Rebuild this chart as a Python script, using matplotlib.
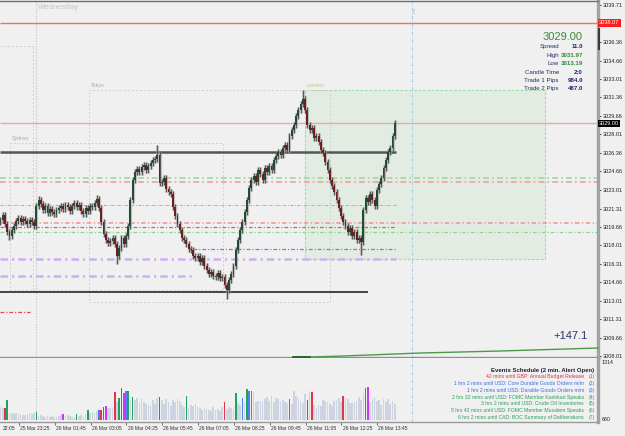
import matplotlib
matplotlib.use("Agg")
import matplotlib.pyplot as plt
import matplotlib.transforms as mtransforms
from matplotlib.patches import Rectangle

plt.rcParams['font.family'] = ['Liberation Sans', 'DejaVu Sans']

# ---------------- data ----------------
open0 = 3020.10
closes = [
    3020.28, 3020.73, 3019.92, 3019.19, 3018.83, 3019.37, 3019.73, 3020.19, 3020.46, 3020.10,
    3020.37, 3020.19, 3019.92, 3020.28, 3020.10, 3019.73, 3021.54, 3022.08, 3021.72, 3021.18,
    3021.54, 3020.91, 3021.27, 3021.00, 3020.82, 3021.18, 3021.36, 3021.54, 3021.27, 3021.63,
    3021.45, 3021.09, 3021.54, 3021.81, 3021.45, 3021.63, 3021.09, 3020.82, 3021.36, 3021.09,
    3021.54, 3021.45, 3021.81, 3022.17, 3021.36, 3020.10, 3019.01, 3018.47, 3018.20, 3018.38,
    3018.65, 3018.11, 3017.03, 3017.75, 3018.65, 3018.11, 3018.83, 3019.73, 3022.08, 3023.88,
    3024.61, 3024.88, 3024.61, 3025.06, 3025.24, 3024.79, 3025.15, 3025.42, 3025.69, 3025.78,
    3026.14, 3023.61, 3023.70, 3024.06, 3023.07, 3022.80, 3022.62, 3021.45, 3020.64, 3019.92,
    3019.37, 3018.65, 3018.47, 3018.11, 3017.66, 3017.57, 3017.03, 3016.85, 3017.03, 3016.49,
    3016.85, 3016.13, 3015.77, 3015.41, 3015.59, 3015.22, 3015.13, 3015.50, 3015.04, 3015.13,
    3014.41, 3013.96, 3014.86, 3015.41, 3016.13, 3017.57, 3018.47, 3019.37, 3020.10, 3021.00,
    3022.08, 3023.16, 3023.88, 3024.24, 3023.70, 3024.79, 3024.43, 3023.88, 3024.97, 3024.61,
    3025.15, 3024.79, 3025.69, 3026.05, 3026.41, 3026.14, 3026.77, 3027.04, 3026.59, 3027.85,
    3028.39, 3028.85, 3029.66, 3030.20, 3030.74, 3031.19, 3030.20, 3028.85, 3028.39, 3028.57,
    3027.67, 3027.85, 3027.31, 3026.59, 3026.32, 3025.51, 3024.79, 3023.88, 3023.34, 3022.80,
    3022.08, 3021.36, 3020.64, 3020.10, 3019.73, 3019.19, 3019.55, 3018.83, 3019.19, 3018.47,
    3018.65, 3018.29, 3021.18, 3022.26, 3021.90, 3022.62, 3022.08, 3021.54, 3022.98, 3023.52,
    3024.06, 3024.97, 3025.69, 3026.41, 3026.77, 3027.85, 3029.00,
]
wick_hi = {135: 3031.97, 70: 3027.04, 17: 3022.44, 43: 3022.50}
wick_lo = {101: 3013.19, 52: 3016.31, 161: 3017.12, 4: 3018.47, 89: 3016.20}

vol = [
    13, 12, 12, 20,
    7, 7, 6, 7, 6, 6, 5, 5, 6, 7, 6, 7,
    8,
    4, 5, 4, 3, 4, 3, 4, 3, 3, 4, 5,
    6,
    4, 5, 4, 3, 3,
    6,
    4, 5, 3, 6,
    10,
    7, 8, 7, 9,
    10,
    10, 13, 14,
    12, 12, 12,
    28, 18, 22, 32, 27, 29, 29, 20, 23,
    20, 22, 17, 22, 18, 16, 15, 14, 20, 16, 22,
    23,
    20, 16, 21, 18, 14, 20, 18, 21, 19, 15, 13,
    24,
    12, 15, 14, 16, 13, 12, 10, 12, 11, 10, 9, 13, 10, 11, 9, 13,
    18,
    11, 13, 12, 11,
    27,
    17, 15,
    22, 18, 31, 29, 29,
    28, 18, 19, 19, 18, 21, 23, 19, 24, 18, 22, 21, 18, 20, 18, 17,
    21,
    16, 29, 24, 22, 19, 17, 26,
    20, 29, 28,
    15, 12, 15, 14, 20, 19, 18, 16, 14, 19, 20, 22, 18,
    24,
    23, 21, 17, 17, 18, 19, 23, 20, 27,
    32, 33,
    18, 21, 23, 19, 20, 15, 21, 18, 21, 16, 19, 16,
]
vol_kind = {2: 'r', 3: 'G', 16: 'G', 28: 'm', 34: 'G', 39: 'G', 44: 'b', 45: 'r', 46: 'r',
            47: 'm', 51: 'r', 53: 'G', 54: 'r', 55: 'm', 56: 'b', 57: 'G', 59: 'G', 71: 'r',
            83: 'G', 100: 'r', 105: 'G', 108: 'b', 110: 'G', 111: 'b', 112: 'b', 129: 'G',
            137: 'r', 139: 'r', 153: 'r', 163: 'G', 164: 'm'}
vol_colors = {'g': '#cdd3e0', 'r': '#e2344c', 'G': '#1fa362', 'b': '#4f7ff0', 'm': '#c43cf0'}

time_labels = ["22:05", "25 Mar 23:25", "26 Mar 01:45", "26 Mar 03:05", "26 Mar 04:25",
               "26 Mar 05:45", "26 Mar 07:05", "26 Mar 08:25", "26 Mar 09:45", "26 Mar 11:05",
               "26 Mar 12:25", "26 Mar 13:45"]
time_label_idx = [0.3, 8.2, 24.2, 40.2, 56.2, 72.2, 88.2, 104.2, 120.2, 136.2, 152.2, 168.2]

price_labels = ["3039.71", "3036.36", "3034.66", "3033.01", "3031.36", "3029.66", "3028.01",
                "3026.36", "3024.66", "3023.01", "3021.31", "3019.66", "3018.01", "3016.31",
                "3014.66", "3013.01", "3011.31", "3009.66", "3008.01"]

X0, X1 = -0.223, 266.74
# price levels: (price, start bar, end bar, colour, width, style)
levels = [
    (3038.07, X0, X1, '#e87070', 1.0, 'solid'),
    (3029.00, X0, X1, '#e2abab', 1.0, 'solid'),
    (3026.41, X0, 176.6, '#555555', 1.8, 'solid'),
    (3013.78, X0, 164.1, '#151515', 1.1, 'solid'),
    (3024.06, X0, X1, '#a8dea8', 1.4, 'dd'),
    (3023.70, X0, X1, '#f2a8a8', 1.4, 'dd'),
    (3021.63, X0, 176.6, '#8fb8b8', 0.7, 'dd'),
    (3020.00, X0, X1, '#f09494', 1.1, 'dd'),
    (3019.64, X0, 176.6, '#e25a5a', 0.9, 'dd'),
    (3019.19, X0, X1, '#86dc86', 0.9, 'dd'),
    (3017.66, 85.9, 176.6, '#9a6ae0', 0.9, 'dd'),
    (3016.76, X0, 176.6, '#cdb0f2', 1.8, 'dd'),
    (3015.23, X0, 85.5, '#cdb0f2', 1.8, 'dd'),
    (3011.98, X0, 13.2, '#e04a4a', 0.9, 'dd'),
]

# sessions: name, start bar, end bar, low, high
sessions = [("Sydney", 4.2, 99.3, 3013.96, 3027.22),
            ("Tokyo", 39.5, 147.1, 3012.88, 3032.00),
            ("London", 135.9, 243.1, 3016.76, 3031.97)]
prev_box = (X0, 14.5, 3013.96, 3035.97)
day_sep = 15.8
now_line = 183.7

eq_idx = [130.6, 138.0, 151.6, 187.3, 223.0, 266.7]
eq_val = [3007.92, 3007.92, 3008.00, 3008.28, 3008.46, 3008.73]

info_rows = [("Spread", "11.0", '#24246a'), ("High", "3031.97", '#2e8b3e'),
             ("Low", "3013.19", '#2e8b3e'), ("Candle Time", "2:0", '#24246a'),
             ("Trade 1 Pips", "984.0", '#24246a'), ("Trade 2 Pips", "487.0", '#24246a')]
events = [("42 mins until GBP: Annual Budget Release", '#e2304a'),
          ("1 hrs 2 mins until USD: Core Durable Goods Orders m/m", '#3a6ee8'),
          ("1 hrs 2 mins until USD: Durable Goods Orders m/m", '#3a6ee8'),
          ("2 hrs 32 mins until USD: FOMC Member Kashkari Speaks", '#2e9e5e'),
          ("3 hrs 2 mins until USD: Crude Oil Inventories", '#2e9e5e'),
          ("5 hrs 42 mins until USD: FOMC Member Musalem Speaks", '#2e9e5e'),
          ("6 hrs 2 mins until CAD: BOC Summary of Deliberations", '#2e9e5e')]

# ---------------- figure ----------------
W, H = 625, 436
fig = plt.figure(figsize=(W / 100, H / 100), dpi=100)
BG = '#f0f0f0'
fig.patch.set_facecolor(BG)


def fx(x):
    return x / W


def fy(y):
    return 1 - y / H


ax = fig.add_axes([0, fy(358), fx(598), fy(1) - fy(358)])
ax.set_facecolor(BG)
ax.set_xlim(X0, X1)
ax.set_ylim(3007.83, 3040.03)

vax = fig.add_axes([0, fy(422), fx(598), fy(358) - fy(422)])
vax.set_facecolor(BG)
vax.set_xlim(X0, X1)
vax.set_ylim(-2, 62)

DD = (0, (3.0, 1.6, 0.9, 1.6))

# sessions
for name, s, e, lo, hi in sessions:
    if name == "London":
        ax.add_patch(Rectangle((s, lo), e - s, hi - lo, facecolor='#e3ece3', edgecolor='#9ede9e',
                               lw=0.8, ls=(0, (2.5, 1.5)), zorder=0.5))
        ax.text(s + 0.8, hi + 0.45, name, fontsize=3.8, color='#b9c98e', va='center', ha='left')
    else:
        ax.add_patch(Rectangle((s, lo), e - s, hi - lo, facecolor='none', edgecolor='#cfcfcf',
                               lw=0.7, ls=(0, (2, 2)), zorder=0.6))
        ax.text(s + 0.8, hi + 0.45, name, fontsize=3.8, color='#a8aab8', va='center', ha='left')
ps, pe, plo, phi = prev_box
ax.plot([ps, pe], [phi, phi], color='#cfcfcf', lw=0.7, ls=(0, (2, 2)), zorder=0.6)
ax.plot([pe, pe], [plo, phi], color='#cfcfcf', lw=0.7, ls=(0, (2, 2)), zorder=0.6)

for a in (ax, vax):
    a.axvline(day_sep, color='#c4c4c4', lw=0.8, ls=(0, (1, 1.5)), zorder=0.7)
    a.axvline(now_line, color='#aacde6', lw=0.8, ls=DD, zorder=0.7)
ax.text(day_sep + 0.8, 3039.45, "Wednesday", fontsize=5.6, color='#c4c4c4', va='center', ha='left')
ax.text(now_line + 0.5, 3039.2, "Tue", fontsize=3, color='#9cc0dc', rotation=90,
        va='center', ha='left')

# levels
for p, s, e, c, lw, st in levels:
    ax.plot([s, e], [p, p], color=c, lw=lw, ls=('solid' if st == 'solid' else DD), zorder=1,
            solid_capstyle='butt')

# candles
prev = open0
for i, c in enumerate(closes):
    o = prev
    hi = wick_hi.get(i, max(o, c) + 0.3)
    lo = wick_lo.get(i, min(o, c) - 0.3)
    ax.vlines(i, lo, hi, color='#a0a0a0', lw=2.3, alpha=0.6, zorder=2)
    ax.vlines(i, lo, hi, color='#3c3c3c', lw=0.55, zorder=3)
    col = '#1f4b37' if c >= o else '#701d1d'
    h = c - o if abs(c - o) > 0.05 else 0.05
    ax.bar(i, h, bottom=o, width=0.85, color=col, lw=0, zorder=4)
    prev = c

ax.plot(eq_idx, eq_val, color='#4a9a4a', lw=1.0, zorder=3, clip_on=False)
ax.plot(eq_idx[:2], eq_val[:2], color='#1f5a1f', lw=1.2, zorder=3, clip_on=False)

# price axis
ax.yaxis.tick_right()
ax.set_yticks([float(v) for v in price_labels])
ax.set_yticklabels(price_labels)
ax.tick_params(axis='y', length=2, width=0.6, pad=1.2, labelsize=4, colors='#222222')
ax.set_xticks([])
ax.spines['left'].set_visible(False)
ax.spines['top'].set_color('#707070')
ax.spines['top'].set_linewidth(1.0)
ax.spines['bottom'].set_color('#8e8e8e')
ax.spines['bottom'].set_linewidth(2.4)
ax.spines['right'].set_color('#a2a2a2')
ax.spines['right'].set_linewidth(2.4)

btr = mtransforms.blended_transform_factory(ax.transAxes, ax.transData)
ax.text(1.002, 3038.07, "3038.07", transform=btr, fontsize=4, color='white', va='center',
        ha='left', clip_on=False, bbox=dict(facecolor='#ff1e1e', edgecolor='none', pad=0.9))
ax.text(1.002, 3029.00, "3029.00", transform=btr, fontsize=4, color='white', va='center',
        ha='left', clip_on=False, bbox=dict(facecolor='#000000', edgecolor='none', pad=0.9))
fig.patches.append(Rectangle((fx(597.5), fy(50)), fx(2.5), fy(28) - fy(50),
                             transform=fig.transFigure, facecolor='#3a3a3a', edgecolor='none'))

# volume
for i, v in enumerate(vol):
    vax.bar(i, v, width=0.72, color=vol_colors[vol_kind.get(i, 'g')], lw=0, zorder=2)
vax.set_yticks([])
vax.set_xticks([t for t in time_label_idx if t > 5])
vax.tick_params(axis='x', length=2, width=0.6, labelbottom=False, colors='#555555')
vax.spines['left'].set_visible(False)
vax.spines['top'].set_visible(False)
vax.spines['bottom'].set_color('#9a9a9a')
vax.spines['bottom'].set_linewidth(1.0)
vax.spines['right'].set_color('#a2a2a2')
vax.spines['right'].set_linewidth(2.4)
vbt = mtransforms.blended_transform_factory(vax.transAxes, vax.transData)
vax.text(1.006, 57, "1314", transform=vbt, fontsize=3.8, color='#222222', va='center', ha='left',
         clip_on=False)
vax.text(1.006, 1, "680", transform=vbt, fontsize=3.8, color='#222222', va='center', ha='left',
         clip_on=False)

ttr = mtransforms.blended_transform_factory(vax.transData, fig.transFigure)
for t, lbl in zip(time_label_idx, time_labels):
    vax.text(t + 0.5, fy(428), lbl, transform=ttr, fontsize=3.6, color='#303030', va='center',
             ha='left', clip_on=False)

# info panel
fig.text(fx(583), fy(37.5), "3029.00", fontsize=8, color='#3a8a3a', ha='right', va='center')
for k, (lab, val, vc) in enumerate(info_rows):
    yy = 46.7 + 8.45 * k
    fig.text(fx(559), fy(yy), lab, fontsize=4.4, color='#2a2a6a', ha='right', va='center')
    fig.text(fx(583), fy(yy), val, fontsize=4.4, color=vc, ha='right', va='center',
             fontweight='bold')

fig.text(fx(588), fy(336), "+147.1", fontsize=8, color='#2c3468', ha='right', va='center')

# events
fig.text(fx(594), fy(370), "Events Schedule (2 min. Alert Open)", fontsize=4.3,
         fontweight='bold', color='#1e1e3a', ha='right', va='center')
for k, (txt, c) in enumerate(events):
    yy = 376.8 + 6.75 * k
    fig.text(fx(584), fy(yy), txt, fontsize=3.7, color=c, ha='right', va='center')
    fig.text(fx(589), fy(yy), "(%d)" % (k + 1), fontsize=3.7, color=c, ha='left', va='center')

fig.savefig("out.png", dpi=100, facecolor=BG)
